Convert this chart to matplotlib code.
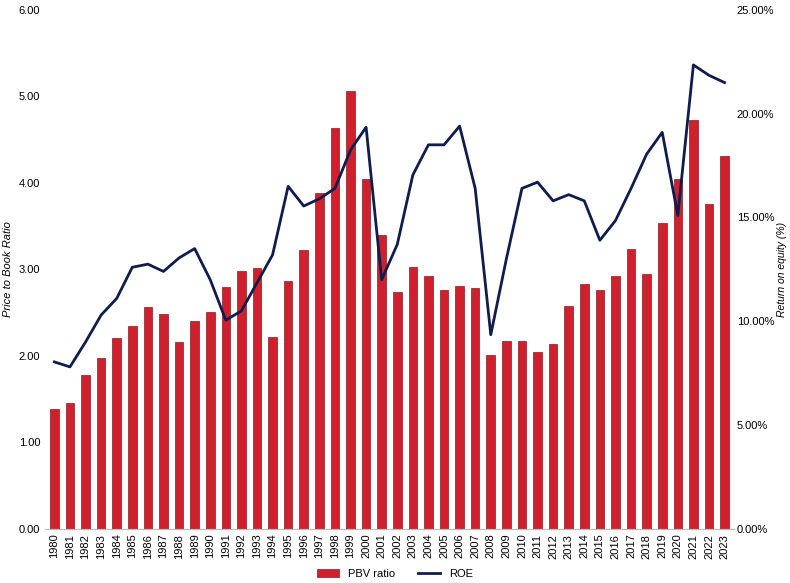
import matplotlib
matplotlib.use("Agg")
import matplotlib.pyplot as plt
from matplotlib.ticker import FuncFormatter

plt.rcParams['font.family'] = ['Liberation Sans', 'DejaVu Sans']

years = list(range(1980, 2024))
pbv = [1.39, 1.45, 1.78, 1.98, 2.21, 2.34, 2.56, 2.48, 2.16, 2.40, 2.51, 2.80, 2.98, 3.02, 2.22,
       2.87, 3.22, 3.88, 4.64, 5.06, 4.05, 3.40, 2.74, 3.03, 2.92, 2.76, 2.81, 2.78, 2.01, 2.17,
       2.17, 2.05, 2.14, 2.58, 2.83, 2.76, 2.92, 3.24, 2.95, 3.54, 4.05, 4.73, 3.75, 4.31]
roe = [8.04, 7.8, 9.0, 10.3, 11.1, 12.6, 12.75, 12.4, 13.05, 13.5, 12.0, 10.05, 10.5, 11.85, 13.2,
       16.5, 15.55, 15.9, 16.4, 18.25, 19.35, 12.0, 13.7, 17.05, 18.5, 18.5, 19.4, 16.4, 9.35, 13.0,
       16.4, 16.7, 15.8, 16.1, 15.8, 13.9, 14.85, 16.4, 18.05, 19.1, 15.1, 22.35, 21.85, 21.5]

fig = plt.figure(figsize=(7.9, 5.83), dpi=100)
ax = fig.add_axes([0.057, 0.093, 0.872, 0.89])
x = list(range(len(years)))
b = ax.bar(x, pbv, width=0.55, color='#d0202e', edgecolor='#8a1a20', linewidth=0.5, label='PBV ratio')
ax.set_ylim(0, 6)
ax.set_yticks([0, 1, 2, 3, 4, 5, 6])
ax.yaxis.set_major_formatter(FuncFormatter(lambda v, p: f"{v:.2f}"))
ax.set_xlim(-0.6, len(years) - 0.4)
ax.set_xticks(x)
ax.set_xticklabels([str(y) for y in years], rotation=90)
ax.set_ylabel('Price to Book Ratio', style='italic', fontsize=8)
ax.tick_params(labelsize=8, length=0)

ax2 = ax.twinx()
l, = ax2.plot(x, roe, color='#0f1c4d', linewidth=2, label='ROE')
ax2.set_ylim(0, 25)
ax2.set_yticks([0, 5, 10, 15, 20, 25])
ax2.yaxis.set_major_formatter(FuncFormatter(lambda v, p: f"{v:.2f}%"))
ax2.set_ylabel('Return on equity (%)', style='italic', fontsize=7.5, labelpad=2)
ax2.tick_params(labelsize=8, length=0, pad=2)

for a in (ax, ax2):
    for s in ('top', 'right', 'left'):
        a.spines[s].set_visible(False)
    a.spines['bottom'].set_color('#bbbbbb')

fig.legend([b, l], ['PBV ratio', 'ROE'], loc='lower center', ncol=2, frameon=False,
           fontsize=8, bbox_to_anchor=(0.5, -0.01))
fig.savefig('out.png', dpi=100)
